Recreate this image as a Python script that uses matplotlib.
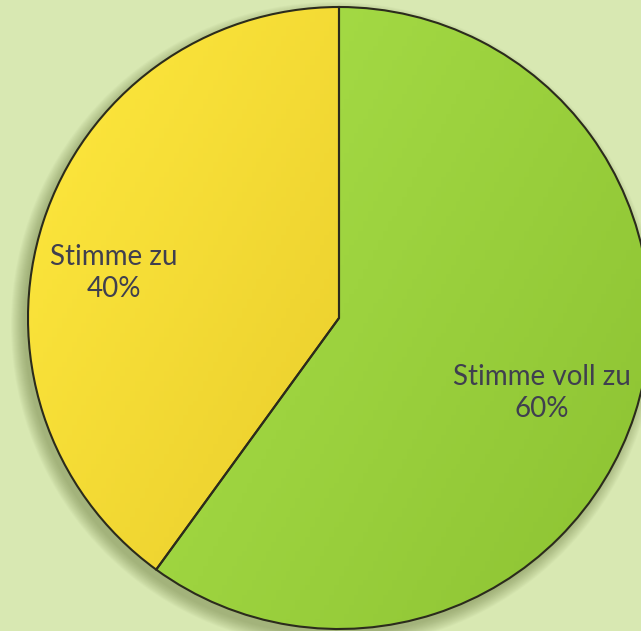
import numpy as np
import matplotlib
matplotlib.use('Agg')
import matplotlib.pyplot as plt
from matplotlib.patches import Circle

# data
labels = ['Stimme zu', 'Stimme voll zu']
shares = [40, 60]
colors = ['#F2D82E', '#A2D83E']
grad = [('#FFE93E', '#DDBE22'), ('#AEE44C', '#8CC232')]

bg = '#D8E8B2'
W, H = 641, 631
cx, cy, R = 339, H - 318, 311

fig = plt.figure(figsize=(W / 100, H / 100), dpi=100, facecolor=bg)
ax = fig.add_axes([0, 0, 1, 1])

# soft shadow under the pie
for i in range(14):
    ax.add_patch(Circle((cx - 5, cy - 7), R + 12 - i, color='#5f6d35',
                        alpha=0.035, lw=0, zorder=0))

wedges, _ = ax.pie(shares, colors=colors, startangle=90, counterclock=True,
                   center=(cx, cy), radius=R, frame=True,
                   wedgeprops=dict(edgecolor='#2b2b1c', linewidth=1.5))
ax.set_xlim(0, W)
ax.set_ylim(0, H)
ax.set_aspect('equal')
ax.axis('off')

# light diagonal gradient inside each slice (top-left light, bottom-right dark)
yy, xx = np.mgrid[0:1:128j, 0:1:128j]
ramp = 0.65 * xx + 0.35 * yy
for w, (c1, c2) in zip(wedges, grad):
    cmap = matplotlib.colors.LinearSegmentedColormap.from_list('g', [c1, c2])
    img = ax.imshow(ramp, cmap=cmap, aspect='auto', origin='upper',
                    extent=(cx - R, cx + R, cy - R, cy + R), zorder=1.5)
    img.set_clip_path(w)
    w.set_facecolor('none')
    w.set_zorder(2)

dist = [0.738, 0.696]
adj = [6.7, -2.3]
for w, lab, s, d, a in zip(wedges, labels, shares, dist, adj):
    mid = np.deg2rad((w.theta1 + w.theta2) / 2 + a)
    ax.text(cx + d * R * np.cos(mid), cy + d * R * np.sin(mid),
            f'{lab}\n{s}%', ha='center', va='center', fontsize=20,
            color='#3f3f4f', family='Lato', linespacing=1.3, zorder=3)

fig.savefig('out.png', dpi=100, facecolor=bg)
